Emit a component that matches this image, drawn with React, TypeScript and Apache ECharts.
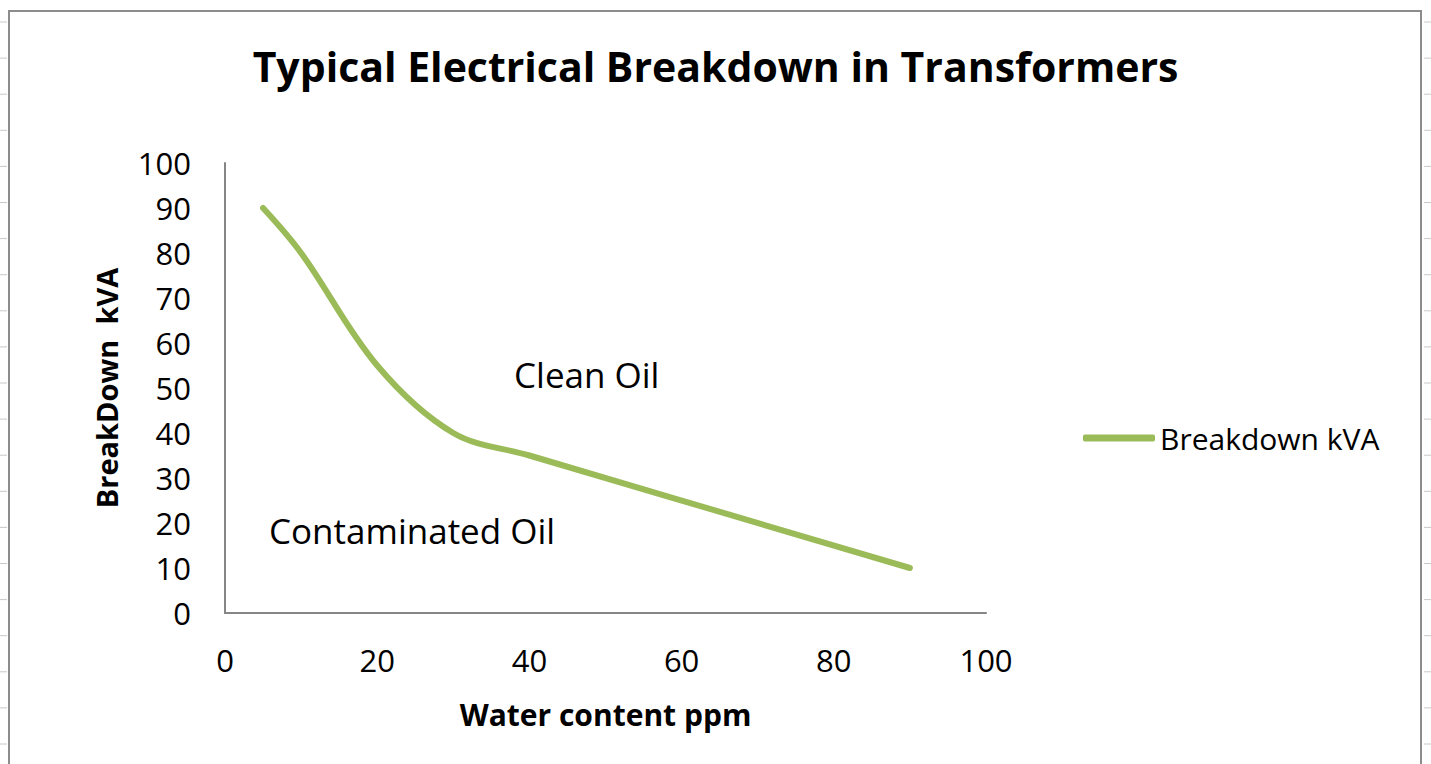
import React, { useEffect, useRef } from "react";
import * as echarts from "echarts";

const waterPpm = [5, 10, 20, 30, 40, 90];
const breakdownKva = [90, 80, 55, 40, 35, 10];
const seriesName = "Breakdown kVA";
const titleText = "Typical Electrical Breakdown in Transformers";
const xAxisName = "Water content ppm";
const yAxisName = "BreakDown  kVA";
const regionLabels = ["Clean Oil", "Contaminated Oil"];

const FONT = "'Open Sans', Lato, sans-serif";
const GREEN = "#9BBB59";

export default function App() {
  const ref = useRef<HTMLDivElement>(null);
  useEffect(() => {
    document.body.style.margin = "0";
    const chart = echarts.init(ref.current!, null, { renderer: "svg" });
    const gridTicks: any[] = [];
    for (let i = 0; i < 21; i++) {
      const y = 22 + i * 36.1;
      gridTicks.push({ type: "line", shape: { x1: 0, y1: y, x2: 7, y2: y }, style: { stroke: "#c8c8c8", lineWidth: 1 } });
      gridTicks.push({ type: "line", shape: { x1: 1424, y1: y, x2: 1431, y2: y }, style: { stroke: "#c8c8c8", lineWidth: 1 } });
    }
    chart.setOption({
      animation: false,
      backgroundColor: "#ffffff",
      title: {
        text: titleText,
        left: "center",
        top: 40,
        textStyle: { fontFamily: FONT, fontWeight: "bold", fontSize: 41, color: "#000" },
      },
      grid: { left: 225, right: 445, top: 163, bottom: 151 },
      legend: {
        left: 1083,
        top: 423,
        padding: 0,
        itemWidth: 72,
        itemHeight: 7,
        itemGap: 6,
        icon: "roundRect",
        data: [{ name: seriesName, itemStyle: { color: GREEN } }],
        textStyle: { fontFamily: FONT, fontSize: 30, color: "#000", padding: [0, 0, 0, 0] },
      },
      xAxis: {
        type: "value",
        min: 0,
        max: 100,
        interval: 20,
        name: xAxisName,
        nameLocation: "middle",
        nameGap: 86,
        nameTextStyle: { fontFamily: FONT, fontWeight: "bold", fontSize: 30, color: "#000" },
        axisLine: { show: true, lineStyle: { color: "#868686", width: 2 } },
        axisTick: { show: false },
        splitLine: { show: false },
        axisLabel: { fontFamily: FONT, fontSize: 31, color: "#000", margin: 31 },
      },
      yAxis: {
        type: "value",
        min: 0,
        max: 100,
        interval: 10,
        name: yAxisName,
        nameLocation: "middle",
        nameRotate: 90,
        nameGap: 104,
        nameTextStyle: { fontFamily: FONT, fontWeight: "bold", fontSize: 29, color: "#000" },
        axisLine: { show: true, lineStyle: { color: "#868686", width: 2 } },
        axisTick: { show: false },
        splitLine: { show: false },
        axisLabel: { fontFamily: FONT, fontSize: 31, color: "#000", margin: 34 },
      },
      series: [
        {
          name: seriesName,
          type: "line",
          data: waterPpm.map((x, i) => [x, breakdownKva[i]]),
          smooth: 0.35,
          showSymbol: false,
          symbol: "none",
          lineStyle: { color: GREEN, width: 6, cap: "round" },
          itemStyle: { color: GREEN },
        },
      ],
      graphic: [
        {
          type: "rect",
          shape: { x: 9, y: 11, width: 1412, height: 800 },
          style: { fill: "none", stroke: "#8c8c8c", lineWidth: 2 },
          silent: true,
        },
        ...gridTicks,
        {
          type: "text",
          left: 514,
          top: 357,
          style: { text: regionLabels[0], fontFamily: FONT, fontSize: 35, fill: "#000" },
        },
        {
          type: "text",
          left: 269,
          top: 513,
          style: { text: regionLabels[1], fontFamily: FONT, fontSize: 35, fill: "#000" },
        },
      ],
    });
    return () => chart.dispose();
  }, []);
  return <div ref={ref} style={{ position: "absolute", left: 0, top: 0, width: 1431, height: 764 }} />;
}
